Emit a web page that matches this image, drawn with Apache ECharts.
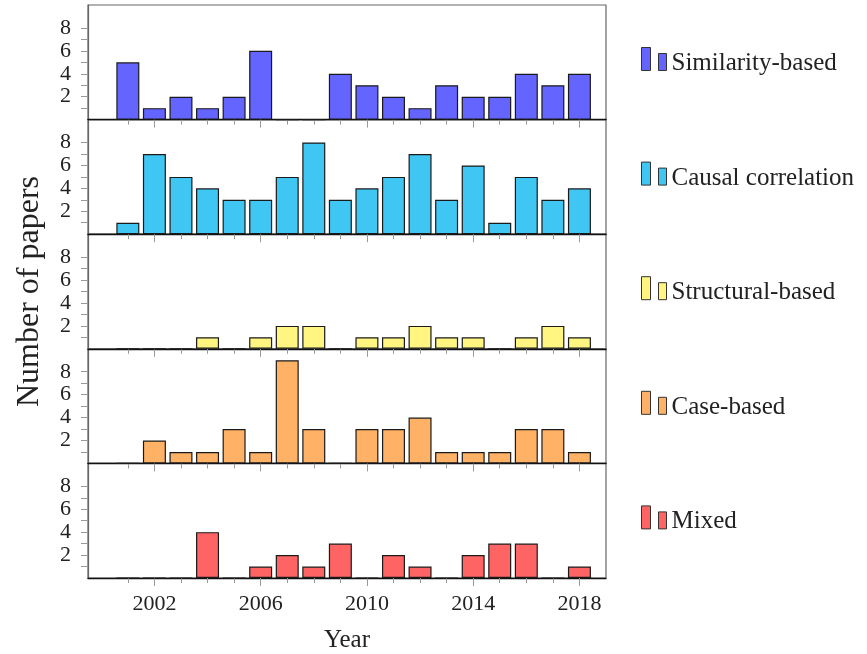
<!DOCTYPE html>
<html>
<head>
<meta charset="utf-8">
<script src="https://cdn.jsdelivr.net/npm/echarts@6.0.0/dist/echarts.min.js"></script>
<style>
  html, body { margin: 0; padding: 0; background: #fff; }
  #chart { width: 867px; height: 654px; }
</style>
</head>
<body>
<div id="chart"></div>
<script>
// ---- data ----
const years = [2001, 2002, 2003, 2004, 2005, 2006, 2007, 2008, 2009, 2010, 2011, 2012, 2013, 2014, 2015, 2016, 2017, 2018];
const similarity = [5, 1, 2, 1, 2, 6, 0, 0, 4, 3, 2, 1, 3, 2, 2, 4, 3, 4];
const causal     = [1, 7, 5, 4, 3, 3, 5, 8, 3, 4, 5, 7, 3, 6, 1, 5, 3, 4];
const structural = [0, 0, 0, 1, 0, 1, 2, 2, 0, 1, 1, 2, 1, 1, 0, 1, 2, 1];
const caseBased  = [0, 2, 1, 1, 3, 1, 9, 3, 0, 3, 3, 4, 1, 1, 1, 3, 3, 1];
const mixed      = [0, 0, 0, 4, 0, 1, 2, 1, 3, 0, 2, 1, 0, 2, 3, 3, 0, 1];
const seriesNames = ['Similarity-based', 'Causal correlation', 'Structural-based', 'Case-based', 'Mixed'];
const xLabelYears = [2002, 2006, 2010, 2014, 2018];
const yTickValues = [1, 2, 3, 4, 5, 6, 7, 8];
const yLabelValues = [2, 4, 6, 8];

// ---- styling ----
const seriesValues = [similarity, causal, structural, caseBased, mixed];
const colors = ['#6464ff', '#40c6f2', '#fff580', '#ffb266', '#ff6464'];
const FONT = '"Liberation Serif", "DejaVu Serif", serif';
const GRID_LEFT = 88, GRID_WIDTH = 518, GRID_TOP = 5, PANEL_H = 114.6;
const ICON = 'path://M0,0H9V23H0Z M17,6H25V23H17Z';

const grids = [], xAxes = [], yAxes = [], series = [], legends = [];
for (let i = 0; i < 5; i++) {
  const top = GRID_TOP + i * PANEL_H;
  grids.push({ left: GRID_LEFT, width: GRID_WIDTH, top: top, height: PANEL_H,
    show: true, borderColor: '#666', borderWidth: 1.2 });
  // minor ticks each year + black baseline
  xAxes.push({
    gridIndex: i, type: 'value', position: 'bottom', min: 1999.5, max: 2019,
    axisLine: { show: true, onZero: false, lineStyle: { color: '#111', width: 1.3 } },
    axisTick: { show: true, customValues: years, length: 5, lineStyle: { color: '#999', width: 1 } },
    axisLabel: { show: false },
    splitLine: { show: false }
  });
  // major ticks + labels
  xAxes.push({
    gridIndex: i, type: 'value', position: 'bottom', min: 1999.5, max: 2019,
    axisLine: { show: false, onZero: false },
    axisTick: { show: true, customValues: xLabelYears, length: 8, lineStyle: { color: '#999', width: 1 } },
    axisLabel: { show: i === 4, customValues: xLabelYears, formatter: v => String(v),
      fontFamily: FONT, fontSize: 22, color: '#222', margin: 15 },
    splitLine: { show: false },
    name: i === 4 ? 'Year' : '', nameLocation: 'middle', nameGap: 50,
    nameTextStyle: { fontFamily: FONT, fontSize: 25, color: '#222' }
  });
  yAxes.push({
    gridIndex: i, type: 'value', position: 'left', min: 0, max: 10,
    axisLine: { show: true, onZero: false, lineStyle: { color: '#666', width: 1.2 } },
    axisTick: { show: true, customValues: yTickValues, length: 7, lineStyle: { color: '#999', width: 1 } },
    axisLabel: { customValues: yLabelValues, fontFamily: FONT, fontSize: 22, color: '#222', margin: 17 },
    splitLine: { show: false },
    name: i === 2 ? 'Number of papers' : '', nameLocation: 'middle', nameGap: 42,
    nameTextStyle: { fontFamily: FONT, fontSize: 32, color: '#222' }
  });
  series.push({
    name: seriesNames[i], type: 'bar', xAxisIndex: 2 * i, yAxisIndex: i,
    data: years.map((y, j) => [y, seriesValues[i][j]]),
    barWidth: 23,
    itemStyle: { color: colors[i], borderColor: '#1a1a1a', borderWidth: 1.2 }
  });
  legends.push({
    data: [seriesNames[i]], left: 641, top: 47 + i * PANEL_H, padding: 0,
    icon: ICON, itemWidth: 25, itemHeight: 23, selectedMode: false,
    itemStyle: { color: colors[i], borderColor: '#333', borderWidth: 1 },
    formatter: '{t|{name}}',
    textStyle: { fontFamily: FONT, fontSize: 25, color: '#222',
      rich: { t: { fontFamily: FONT, fontSize: 25, color: '#222', padding: [9, 0, 0, 0] } } }
  });
}

const chart = echarts.init(document.getElementById('chart'), null, { renderer: 'canvas' });
chart.setOption({
  animation: false,
  backgroundColor: '#fff',
  grid: grids, xAxis: xAxes, yAxis: yAxes, series: series, legend: legends
});
</script>
</body>
</html>
